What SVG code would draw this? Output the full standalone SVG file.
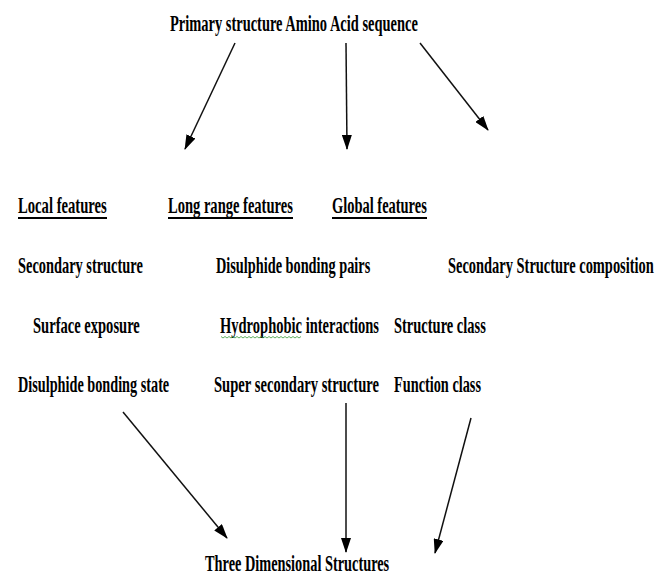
<svg xmlns="http://www.w3.org/2000/svg" width="657" height="577" viewBox="0 0 657 577">
<style>
text{font-family:"Liberation Serif","Times New Roman",serif;font-weight:bold;font-size:24px;fill:#000}
.c line{stroke:#111;stroke-width:1.5;marker-end:url(#ah)}
.u{stroke:#000;stroke-width:2.2}
</style>
<defs>
<marker id="ah" viewBox="0 0 15 10" refX="14" refY="5" markerWidth="15" markerHeight="10" markerUnits="userSpaceOnUse" orient="auto">
<path d="M0,0 L15,5 L0,10 Z" fill="#000"/>
</marker>
</defs>
<rect width="657" height="577" fill="#fff"/>
<g id="primary"><text transform="translate(170,31) scale(0.6,1)" textLength="413" lengthAdjust="spacingAndGlyphs">Primary structure Amino Acid sequence</text></g>
<g id="local"><text transform="translate(18,213) scale(0.6,1)" textLength="148" lengthAdjust="spacingAndGlyphs">Local features</text><line class="u" x1="18" y1="218" x2="107" y2="218"/></g>
<g id="longrange"><text transform="translate(168,213) scale(0.6,1)" textLength="208" lengthAdjust="spacingAndGlyphs">Long range features</text><line class="u" x1="168" y1="218" x2="293" y2="218"/></g>
<g id="global"><text transform="translate(332,213) scale(0.6,1)" textLength="158" lengthAdjust="spacingAndGlyphs">Global features</text><line class="u" x1="332" y1="218" x2="427" y2="218"/></g>
<g id="secstruct"><text transform="translate(18,273) scale(0.6,1)" textLength="208" lengthAdjust="spacingAndGlyphs">Secondary structure</text></g>
<g id="dspairs"><text transform="translate(216,273) scale(0.6,1)" textLength="257" lengthAdjust="spacingAndGlyphs">Disulphide bonding pairs</text></g>
<g id="sscomp"><text transform="translate(448,273) scale(0.6,1)" textLength="343" lengthAdjust="spacingAndGlyphs">Secondary Structure composition</text></g>
<g id="surface"><text transform="translate(33,333) scale(0.6,1)" textLength="178" lengthAdjust="spacingAndGlyphs">Surface exposure</text></g>
<g id="hydro"><text transform="translate(220,333) scale(0.6,1)" textLength="265" lengthAdjust="spacingAndGlyphs">Hydrophobic interactions</text><path d="M221,336.5 l2,1.5 l2,-1.5 l2,1.5 l2,-1.5 l2,1.5 l2,-1.5 l2,1.5 l2,-1.5 l2,1.5 l2,-1.5 l2,1.5 l2,-1.5 l2,1.5 l2,-1.5 l2,1.5 l2,-1.5 l2,1.5 l2,-1.5 l2,1.5 l2,-1.5 l2,1.5 l2,-1.5 l2,1.5 l2,-1.5 l2,1.5 l2,-1.5 l2,1.5 l2,-1.5 l2,1.5 l2,-1.5 l2,1.5 l2,-1.5 l2,1.5 l2,-1.5 l2,1.5 l2,-1.5 l2,1.5 l2,-1.5 l2,1.5 l2,-1.5" fill="none" stroke="#3a9a3a" stroke-width="0.8"/></g>
<g id="strclass"><text transform="translate(394,333) scale(0.6,1)" textLength="153" lengthAdjust="spacingAndGlyphs">Structure class</text></g>
<g id="dsstate"><text transform="translate(18,392) scale(0.6,1)" textLength="252" lengthAdjust="spacingAndGlyphs">Disulphide bonding state</text></g>
<g id="supersec"><text transform="translate(214,392) scale(0.6,1)" textLength="275" lengthAdjust="spacingAndGlyphs">Super secondary structure</text></g>
<g id="funcclass"><text transform="translate(394,392) scale(0.6,1)" textLength="145" lengthAdjust="spacingAndGlyphs">Function class</text></g>
<g id="threed"><text transform="translate(205,571) scale(0.6,1)" textLength="307" lengthAdjust="spacingAndGlyphs">Three Dimensional Structures</text></g>
<g id="connectors" class="c">
<line x1="235" y1="43" x2="185" y2="149"/>
<line x1="346" y1="43" x2="347" y2="149"/>
<line x1="420" y1="43" x2="488" y2="130"/>
<line x1="123" y1="412" x2="227" y2="538"/>
<line x1="346" y1="403" x2="346" y2="552"/>
<line x1="471" y1="418" x2="435" y2="553"/>
</g>
</svg>
